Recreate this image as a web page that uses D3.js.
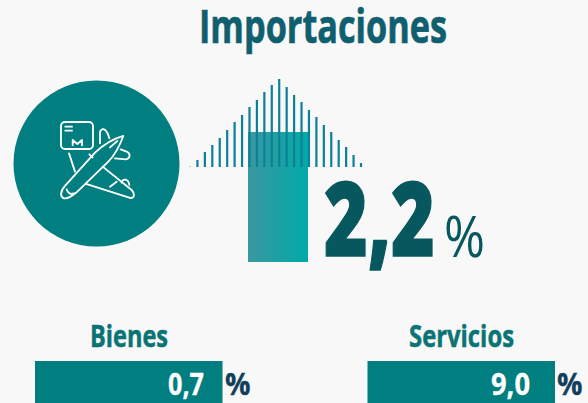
<!DOCTYPE html>
<html>
<head>
<meta charset="utf-8">
<script src="https://cdn.jsdelivr.net/npm/d3@7"></script>
<style>
  html, body { margin: 0; padding: 0; background: #f8f8f8; overflow: hidden; }
  svg { display: block; }
  text { font-family: "Open Sans", sans-serif; }
</style>
</head>
<body>
<svg id="chart" width="588" height="403"></svg>
<script>
var title = "Importaciones";
var totalValue = "2,2";
var categories = ["Bienes", "Servicios"];
var categoryValues = ["0,7", "9,0"];

// height of each stripe of the arrow
var stripeHeights = [0.3, 7, 15, 22, 29, 37, 45, 52, 60, 67, 75, 82, 88, 80, 72, 65, 57, 50, 42, 35, 27, 20, 12, 4];

var svg = d3.select("svg#chart");

// text squeezed to a known width, the installed fonts are wider than the original
function label(parent, str, x, y, w, size, weight, fill, thicken){
  return parent.append("text")
    .attr("x", x)
    .attr("y", y)
    .attr("textLength", w)
    .attr("lengthAdjust", "spacingAndGlyphs")
    .attr("font-size", size)
    .attr("font-weight", weight)
    .attr("fill", fill)
    .attr("stroke", fill)
    .attr("stroke-width", thicken || 0)
    .text(str);
}

label(svg, title, 199, 43, 248, 46, 700, "#0f5f6e", 0.7);

// Circle with icon
svg.append("circle")
  .attr("cx", 96.5)
  .attr("cy", 163.5)
  .attr("r", 83)
  .attr("fill", "#017f80");

var icon = svg.append("g")
  .attr("transform", "translate(0,60) scale(0.3333)")
  .attr("fill", "none")
  .attr("stroke", "#ffffff")
  .attr("stroke-width", 5.5)
  .attr("stroke-linecap", "round")
  .attr("stroke-linejoin", "round");

icon.append("rect")
  .attr("x", 183).attr("y", 186)
  .attr("width", 96).attr("height", 81)
  .attr("rx", 12);

var iconPaths = [
  "M196,200H216M196,212H216",
  "M218,256V240L232,252L246,240V256",
  "M370,228C335,238 310,255 285,278L195,378C180,395 180,412 192,415C205,418 220,405 232,395L325,305C345,285 360,255 370,228Z",
  "M352,243L330,262",
  "M200,388C203,400 212,404 222,400",
  "M258,372L390,414C405,415 405,400 395,390L308,320",
  "M207,280L225,335",
  "M268,283L278,292",
  "M345,295L378,298C392,295 392,280 380,275L362,268",
  "M300,250V215C310,198 322,212 328,235",
  "M330,380L350,365",
  "M365,368C368,355 385,355 388,375"
];

icon.selectAll("path")
  .data(iconPaths)
  .enter().append("path")
  .attr("d", d => d);

// Arrow: gradient shaft first, stripes over it
var grad = svg.append("defs").append("linearGradient")
  .attr("id", "shaft");
grad.append("stop").attr("offset", "0%").attr("stop-color", "#3a979f");
grad.append("stop").attr("offset", "100%").attr("stop-color", "#00aaa9");

svg.append("rect")
  .attr("x", 248)
  .attr("y", 132)
  .attr("width", 60)
  .attr("height", 130)
  .attr("fill", "url(#shaft)");

var stripeX = d3.scaleLinear()
  .domain([0, stripeHeights.length - 1])
  .range([190, 361]);

var stripeY = d3.scaleLinear()
  .domain([0, 88])
  .range([167, 79]);

svg.selectAll("rect.stripe")
  .data(stripeHeights)
  .enter().append("rect")
  .attr("class", "stripe")
  .attr("x", (d, i) => stripeX(i) - 1.1)
  .attr("y", d => stripeY(d))
  .attr("width", 2.2)
  .attr("height", d => stripeY(0) - stripeY(d))
  .attr("fill", "#0e8096");

label(svg, totalValue, 324, 256, 111, 102, 800, "#07575f", 1.5);
label(svg, "%", 444, 257, 41, 56, 400, "#07575f");

// Bienes / Servicios
var barX = d3.scalePoint()
  .domain(categories)
  .range([35, 367.5]);
var barWidth = 187.5;

var nameX = [90, 409];
var nameW = [78, 105];
var valueX = [168, 491];
var valueW = [36, 39];
var percentX = [225, 557];

categories.forEach(function(name, i){
  var x = barX(name);

  label(svg, name, nameX[i], 347, nameW[i], 30, 700, "#0a7474", 0.5);

  svg.append("rect")
    .attr("x", x)
    .attr("y", 361)
    .attr("width", barWidth)
    .attr("height", 42)
    .attr("fill", "#017e80");

  label(svg, categoryValues[i], valueX[i], 395, valueW[i], 30, 700, "#ffffff", 0.3);
  label(svg, "%", percentX[i], 395, 25.5, 31, 700, "#123f5c", 0.3);
});
</script>
</body>
</html>
